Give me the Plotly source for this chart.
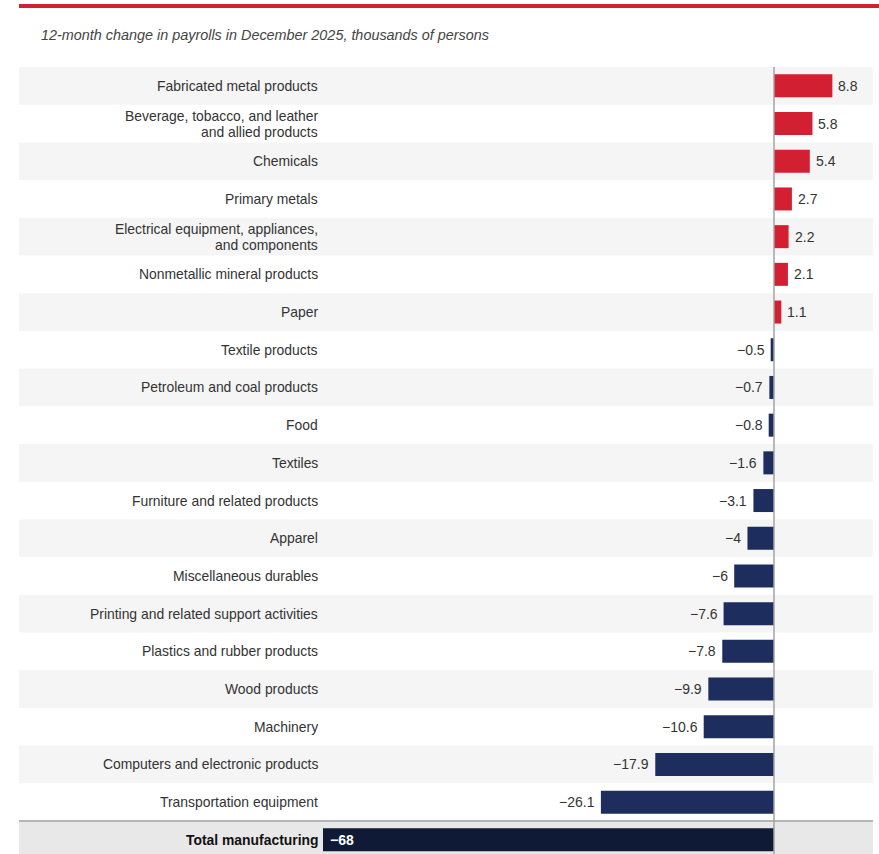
import plotly.graph_objects as go

categories = [
    "Fabricated metal products",
    "Beverage, tobacco, and leather<br>and allied products",
    "Chemicals",
    "Primary metals",
    "Electrical equipment, appliances,<br>and components",
    "Nonmetallic mineral products",
    "Paper",
    "Textile products",
    "Petroleum and coal products",
    "Food",
    "Textiles",
    "Furniture and related products",
    "Apparel",
    "Miscellaneous durables",
    "Printing and related support activities",
    "Plastics and rubber products",
    "Wood products",
    "Machinery",
    "Computers and electronic products",
    "Transportation equipment",
]
values = [8.8, 5.8, 5.4, 2.7, 2.2, 2.1, 1.1, -0.5, -0.7, -0.8, -1.6, -3.1, -4, -6,
          -7.6, -7.8, -9.9, -10.6, -17.9, -26.1]
total_label = "Total manufacturing"
total_value = -68
subtitle = "12-month change in payrolls in December 2025, thousands of persons"

RED = "#d21f31"
NAVY = "#1c2d5e"
DARK = "#0f1a36"
TXT = "#333333"
FONT = "Liberation Sans, Arial, sans-serif"

W, H = 879, 854
L, R, T, B = 323, 6, 67, 0
pw = W - L - R
ph = H - T - B
row_px = 37.7
y_bottom = -0.5 + ph / row_px  # reversed axis: top is -0.5

def fmt(v):
    return f"{v:g}".replace("-", "\u2212")

def px_to_xpaper(px):
    return (px - L) / pw

def px_to_ypaper(py):
    return 1 - (py - T) / ph

ys = list(range(len(categories)))
fig = go.Figure()

fig.add_trace(go.Bar(
    x=values, y=ys, orientation="h", width=0.61,
    marker=dict(color=[RED if v > 0 else NAVY for v in values], line=dict(width=0)),
    hoverinfo="skip",
))
total_y = len(categories)
fig.add_trace(go.Bar(
    x=[total_value], y=[total_y], orientation="h", width=0.61,
    marker=dict(color=DARK, line=dict(width=0)), hoverinfo="skip",
))

shapes = []
x_left_band = px_to_xpaper(19)
for i in range(len(categories)):
    if i % 2 == 0:
        shapes.append(dict(type="rect", xref="paper", yref="y", x0=x_left_band, x1=1,
                           y0=i - 0.5, y1=i + 0.5, fillcolor="#f5f5f5", line=dict(width=0),
                           layer="below"))
shapes.append(dict(type="rect", xref="paper", yref="y", x0=x_left_band, x1=1,
                   y0=total_y - 0.5, y1=y_bottom + 1, fillcolor="#e8e8e8", line=dict(width=0),
                   layer="below"))
shapes.append(dict(type="line", xref="paper", yref="y", x0=x_left_band, x1=1,
                   y0=total_y - 0.5, y1=total_y - 0.5, line=dict(color="#b5b5b5", width=2),
                   layer="above"))
shapes.append(dict(type="line", xref="x", yref="paper", x0=0, x1=0, y0=0, y1=1,
                   line=dict(color="#a3a3a3", width=1.5), layer="above"))
shapes.append(dict(type="rect", xref="paper", yref="paper", x0=px_to_xpaper(19),
                   x1=px_to_xpaper(880), y0=px_to_ypaper(8), y1=px_to_ypaper(4),
                   fillcolor=RED, line=dict(width=0)))

annotations = []
for i, c in enumerate(categories):
    lines = c.split("<br>")
    nl = len(lines)
    for k, line in enumerate(lines):
        yshift = ((nl - 1) / 2 - k) * 16
        annotations.append(dict(xref="paper", yref="y", x=0, y=i, xanchor="right",
                                yanchor="middle", xshift=-3, yshift=yshift, text=line,
                                showarrow=False, align="right",
                                font=dict(family=FONT, size=13.9, color=TXT)))
for i, v in enumerate(values):
    annotations.append(dict(xref="x", yref="y", x=v, y=i,
                            xanchor="left" if v > 0 else "right", yanchor="middle",
                            xshift=4 if v > 0 else -4, text=fmt(v), showarrow=False,
                            font=dict(family=FONT, size=14, color=TXT)))
annotations.append(dict(xref="paper", yref="y", x=0, y=total_y, xanchor="right", yanchor="middle",
                        xshift=-3, text=f"<b>{total_label}</b>", showarrow=False, align="right",
                        font=dict(family=FONT, size=13.9, color="#111111")))
annotations.append(dict(xref="x", yref="y", x=total_value, y=total_y, xanchor="left",
                        yanchor="middle", xshift=5, text=f"<b>{fmt(total_value)}</b>",
                        showarrow=False, font=dict(family=FONT, size=14, color="white")))
annotations.append(dict(xref="paper", yref="paper", x=px_to_xpaper(39), y=px_to_ypaper(35),
                        xanchor="left", yanchor="middle", text=f"<i>{subtitle}</i>",
                        showarrow=False, font=dict(family=FONT, size=14.4, color="#444444")))

x_min = total_value
x_max = x_min + pw / ((774 - 323) / (0 - total_value))

fig.update_layout(
    width=W, height=H,
    margin=dict(l=L, r=R, t=T, b=B, pad=0),
    paper_bgcolor="white", plot_bgcolor="rgba(0,0,0,0)",
    showlegend=False, barmode="overlay",
    xaxis=dict(range=[x_min, x_max], visible=False, fixedrange=True),
    yaxis=dict(range=[y_bottom, -0.5], visible=False, fixedrange=True),
    shapes=shapes, annotations=annotations,
)

fig.write_html("out.html", config={"displayModeBar": False})
